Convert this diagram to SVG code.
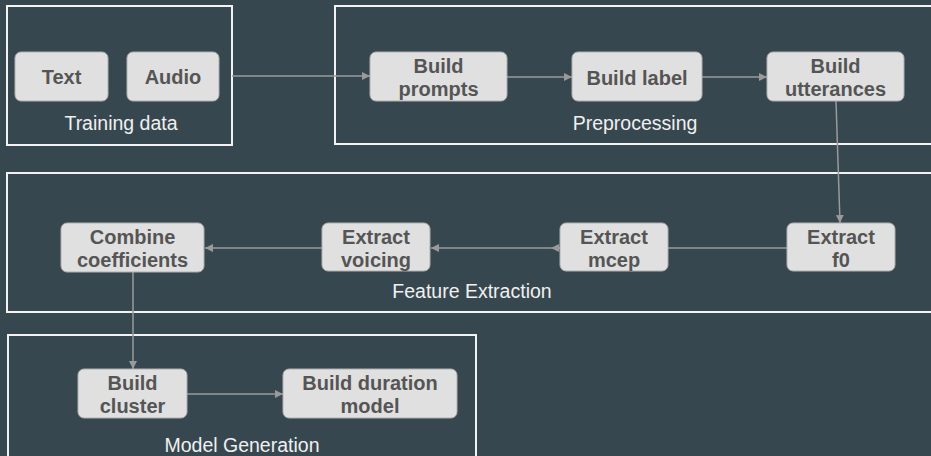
<svg xmlns="http://www.w3.org/2000/svg" width="931" height="456" viewBox="0 0 931 456">
  <style>
    .bg { fill: #37474f; }
    .group { fill: none; stroke: #f2f2f2; stroke-width: 2; }
    .group-label { font-family: "Liberation Sans", Arial, sans-serif; font-size: 19.5px; fill: #f0f0f0; text-anchor: middle; }
    .node rect { fill: #e0e0e0; stroke: #b0b0b0; stroke-width: 1; }
    .node text { font-family: "Liberation Sans", Arial, sans-serif; font-size: 20px; font-weight: bold; fill: #555555; text-anchor: middle; }
    .edge { fill: none; stroke: #9a9a9a; stroke-width: 1.5; }
  </style>
  <defs>
    <marker id="arrow" viewBox="0 0 10 10" refX="10" refY="5" markerWidth="8" markerHeight="8" markerUnits="userSpaceOnUse" orient="auto">
      <path d="M0,0 L10,5 L0,10 z" fill="#9a9a9a"/>
    </marker>
  </defs>

  <rect class="bg" x="0" y="0" width="931" height="456"/>

  <!-- stage frames -->
  <g id="training-data">
    <rect class="group" x="7" y="6" width="225" height="139"/>
    <text class="group-label" x="121" y="130">Training data</text>
  </g>
  <g id="preprocessing">
    <rect class="group" x="335" y="6" width="620" height="138"/>
    <text class="group-label" x="635" y="130">Preprocessing</text>
  </g>
  <g id="feature-extraction">
    <rect class="group" x="7" y="173" width="950" height="139"/>
    <text class="group-label" x="472" y="298">Feature Extraction</text>
  </g>
  <g id="model-generation">
    <rect class="group" x="8" y="335" width="468" height="140"/>
    <text class="group-label" x="242" y="452">Model Generation</text>
  </g>

  <!-- connectors -->
  <g id="connectors">
    <path class="edge" d="M232,76 H370" marker-end="url(#arrow)"/>
    <path class="edge" d="M507,77 H572" marker-end="url(#arrow)"/>
    <path class="edge" d="M702,77 H767" marker-end="url(#arrow)"/>
    <path class="edge" d="M836,101 L840,223" marker-end="url(#arrow)"/>
    <path class="edge" d="M787,248 H551" marker-end="url(#arrow)"/>
    <path class="edge" d="M551,248 H431" marker-end="url(#arrow)"/>
    <path class="edge" d="M322,248 H205" marker-end="url(#arrow)"/>
    <path class="edge" d="M133,272 V369" marker-end="url(#arrow)"/>
    <path class="edge" d="M187,394 H283" marker-end="url(#arrow)"/>
  </g>

  <!-- nodes -->
  <g id="text" class="node">
    <rect x="15" y="52" width="93" height="49" rx="6"/>
    <text x="61.5" y="84">Text</text>
  </g>
  <g id="audio" class="node">
    <rect x="127" y="52" width="92" height="49" rx="6"/>
    <text x="173" y="84">Audio</text>
  </g>
  <g id="build-prompts" class="node">
    <rect x="370" y="52" width="137" height="49" rx="6"/>
    <text x="438.5" y="73">Build</text>
    <text x="438.5" y="96">prompts</text>
  </g>
  <g id="build-label" class="node">
    <rect x="572" y="52" width="130" height="49" rx="6"/>
    <text x="637" y="85">Build label</text>
  </g>
  <g id="build-utterances" class="node">
    <rect x="767" y="52" width="137" height="49" rx="6"/>
    <text x="835.5" y="73">Build</text>
    <text x="835.5" y="96">utterances</text>
  </g>
  <g id="extract-f0" class="node">
    <rect x="787" y="223" width="108" height="48" rx="6"/>
    <text x="841" y="244">Extract</text>
    <text x="841" y="267">f0</text>
  </g>
  <g id="extract-mcep" class="node">
    <rect x="560" y="223" width="108" height="48" rx="6"/>
    <text x="614" y="244">Extract</text>
    <text x="614" y="267">mcep</text>
  </g>
  <g id="extract-voicing" class="node">
    <rect x="322" y="223" width="108" height="48" rx="6"/>
    <text x="376" y="244">Extract</text>
    <text x="376" y="267">voicing</text>
  </g>
  <g id="combine-coefficients" class="node">
    <rect x="61" y="223" width="143" height="49" rx="6"/>
    <text x="132.5" y="244">Combine</text>
    <text x="132.5" y="267">coefficients</text>
  </g>
  <g id="build-cluster" class="node">
    <rect x="78" y="369" width="109" height="49" rx="6"/>
    <text x="132.5" y="390">Build</text>
    <text x="132.5" y="413">cluster</text>
  </g>
  <g id="build-duration-model" class="node">
    <rect x="283" y="369" width="174" height="49" rx="6"/>
    <text x="370" y="390">Build duration</text>
    <text x="370" y="413">model</text>
  </g>
</svg>
